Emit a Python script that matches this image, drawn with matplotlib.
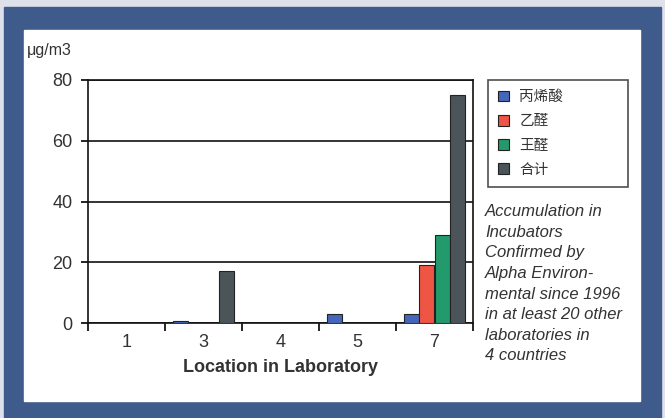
import matplotlib
matplotlib.use('Agg')
import matplotlib.pyplot as plt
from matplotlib.patches import Rectangle
import numpy as np

locations = ['1', '3', '4', '5', '7']
series = ['丙烯酸', '乙醛', '王醛', '合计']
acrylic = [0, 0.8, 0, 3, 3]
acetaldehyde = [0, 0, 0, 0, 19]
nonanal = [0, 0, 0, 0, 29]
total = [0, 17, 0, 0, 75]
yticks = [0, 20, 40, 60, 80]
colors = ['#4466bb', '#ee5544', '#229a6c', '#4b5459']

note = ("Accumulation in\nIncubators\nConfirmed by\nAlpha Environ-\n"
        "mental since 1996\nin at least 20 other\nlaboratories in\n4 countries")

plt.rcParams['font.family'] = ['Liberation Sans', 'DejaVu Sans']

W, H = 665, 418
fig = plt.figure(figsize=(W / 100, H / 100), dpi=100, facecolor='#dfe1ea')

# blue frame and white panel (pixel coords -> figure fraction)
def px(x0, y0, x1, y1):
    return (x0 / W, 1 - y1 / H), (x1 - x0) / W, (y1 - y0) / H

xy, w, h = px(4, 7, 661, 418)
fig.patches.append(Rectangle(xy, w, h, transform=fig.transFigure, color='#3e5b8c', zorder=0))
xy, w, h = px(24, 30, 640, 401)
fig.patches.append(Rectangle(xy, w, h, transform=fig.transFigure, color='white', zorder=1))

ax = fig.add_axes([88 / W, 1 - 323 / H, (473 - 88) / W, (323 - 80) / H])
ax.set_zorder(2)
ax.patch.set_alpha(0)

x = np.arange(len(locations))
bw = 0.195
data = [acrylic, acetaldehyde, nonanal, total]
for i, (vals, name, c) in enumerate(zip(data, series, colors)):
    ax.bar(x + (i - 1.5) * bw, vals, bw, color=c, edgecolor='#222222',
           linewidth=0.8, label=name, zorder=3)

ax.set_xlim(-0.5, len(locations) - 0.5)
ax.set_ylim(0, 80)
ax.set_yticks(yticks)
ax.set_yticklabels([str(v) for v in yticks], fontsize=13, color='#333333')
ax.set_xticks(x)
ax.set_xticklabels(locations, fontsize=13, color='#333333')
ax.set_xticks(np.arange(len(locations) + 1) - 0.5, minor=True)
ax.tick_params(axis='x', which='major', length=0, pad=8)
ax.tick_params(axis='x', which='minor', length=6, width=1.2, direction='out')
ax.tick_params(axis='y', length=5, width=1.2, direction='out', pad=6)
ax.grid(axis='y', color='#111111', linewidth=1.2, zorder=1)
for s in ax.spines.values():
    s.set_linewidth(1.2)
    s.set_color('#111111')

ax.set_xlabel('Location in Laboratory', fontsize=13, fontweight='bold',
              color='#333333', labelpad=6)
fig.text(27 / W, 1 - 51 / H, 'μg/m3', fontsize=11.5, color='#333333', va='center', ha='left')

leg = ax.legend(loc='upper left', mode='expand',
                bbox_to_anchor=(488 / W, 1 - 188 / H, 140 / W, 108 / H),
                bbox_transform=fig.transFigure, frameon=True, fancybox=False,
                prop={'family': ['Noto Sans CJK SC', 'DejaVu Sans'], 'size': 10.5},
                handlelength=0.75, handleheight=0.75, handletextpad=0.7,
                labelspacing=0.7, borderpad=0.7, borderaxespad=0)
leg.get_frame().set_edgecolor('#222222')
leg.get_frame().set_linewidth(1.2)
leg.set_zorder(5)
for t in leg.get_texts():
    t.set_color('#333333')

fig.text(485 / W, 1 - 204 / H, note, fontsize=12, style='italic', color='#333333',
         va='top', ha='left', linespacing=1.47, zorder=5)

plt.savefig('out.png', dpi=100, facecolor=fig.get_facecolor())
